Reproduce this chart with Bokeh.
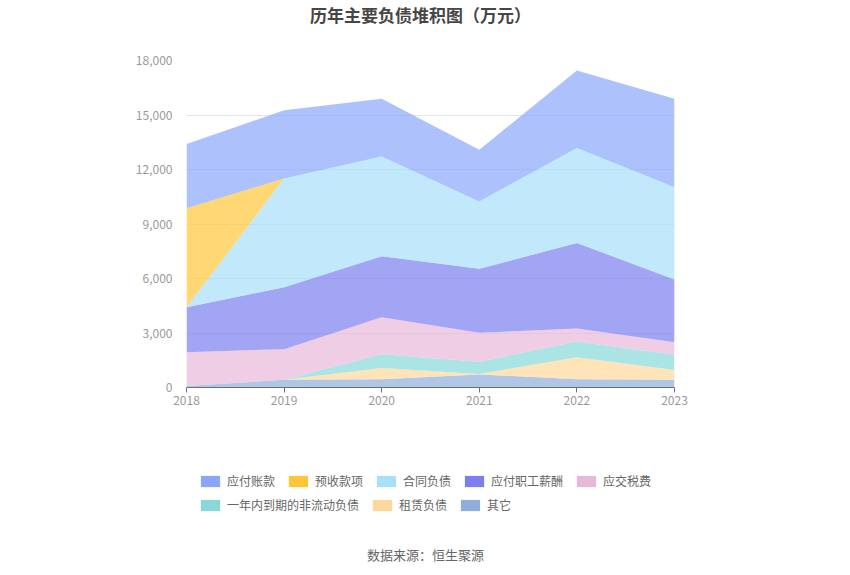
from bokeh.plotting import figure
from bokeh.layouts import column
from bokeh.models import (ColumnDataSource, Legend, LegendItem, Label,
                          NumeralTickFormatter, FixedTicker, Range1d)
from bokeh.transform import stack
from bokeh.embed import file_html
from bokeh.resources import INLINE

# ---- data (万元) ----
years = [2018, 2019, 2020, 2021, 2022, 2023]
other = [80, 420, 450, 720, 460, 420]            # 其它
lease = [0, 0, 630, 30, 1210, 550]               # 租赁负债
current_ncl = [0, 0, 755, 665, 860, 830]         # 一年内到期的非流动负债
tax = [1865, 1690, 2035, 1595, 720, 695]         # 应交税费
salary = [2475, 3410, 3355, 3520, 4710, 3450]    # 应付职工薪酬
contract = [0, 5980, 5485, 3710, 5230, 5080]     # 合同负债
advance = [5450, 0, 0, 0, 0, 0]                  # 预收款项
payable = [3540, 3760, 3180, 2850, 4260, 4865]   # 应付账款

series_keys = ["other", "lease", "current_ncl", "tax", "salary", "contract", "advance", "payable"]
series_names = ["其它", "租赁负债", "一年内到期的非流动负债", "应交税费", "应付职工薪酬",
                "合同负债", "预收款项", "应付账款"]
series_colors = ["#8eaedc", "#fdd89a", "#88d8d8", "#e8b8d8", "#7b7ff0",
                 "#a8e0fa", "#ffc63a", "#8aa6fb"]
legend_row1 = ["应付账款", "预收款项", "合同负债", "应付职工薪酬", "应交税费"]
legend_row2 = ["一年内到期的非流动负债", "租赁负债", "其它"]
y_ticks = [0, 3000, 6000, 9000, 12000, 15000, 18000]

source = ColumnDataSource(dict(year=years, other=other, lease=lease, current_ncl=current_ncl,
                               tax=tax, salary=salary, contract=contract,
                               advance=advance, payable=payable))

FONT = "Noto Sans CJK SC"
W = 848
LEFT = 186
RIGHT = W - 674


def blank_fig(h):
    f = figure(width=W, height=h, output_backend="svg", toolbar_location=None,
               x_range=Range1d(0, 1), y_range=Range1d(0, 1),
               min_border_left=LEFT, min_border_right=RIGHT,
               min_border_top=0, min_border_bottom=0)
    f.axis.visible = False
    f.grid.visible = False
    f.outline_line_color = None
    return f


# ---- title strip ----
top = blank_fig(40)
top.add_layout(Label(x=234, y=26, x_units="screen", y_units="screen",
                     text="历年主要负债堆积图（万元）", text_align="center",
                     text_baseline="middle", text_font=FONT, text_font_size="17px",
                     text_font_style="bold", text_color="#464646"))

# ---- main chart ----
p = figure(width=W, height=390, output_backend="svg", toolbar_location=None,
           x_range=Range1d(2018, 2023), y_range=Range1d(0, 18000),
           min_border_left=LEFT, min_border_right=RIGHT, min_border_top=20,
           min_border_bottom=43)
p.outline_line_color = None

for i, key in enumerate(series_keys):
    p.varea(x="year", y1=stack(*series_keys[:i]) if i > 0 else 0,
            y2=stack(*series_keys[:i + 1]), source=source,
            fill_color=series_colors[i], fill_alpha=0.7)

p.xaxis.ticker = FixedTicker(ticks=years)
p.xaxis.axis_line_color = "#6e7079"
p.xaxis.major_tick_line_color = "#6e7079"
p.xaxis.major_tick_out = 5
p.xaxis.major_tick_in = 0
p.xaxis.minor_tick_line_color = None
p.xaxis.major_label_text_color = "#999999"
p.xaxis.major_label_text_font = FONT
p.xaxis.major_label_text_font_size = "12px"
p.xaxis.major_label_standoff = 3

p.yaxis.ticker = FixedTicker(ticks=y_ticks)
p.yaxis.formatter = NumeralTickFormatter(format="0,0")
p.yaxis.axis_line_color = None
p.yaxis.major_tick_line_color = None
p.yaxis.minor_tick_line_color = None
p.yaxis.major_label_text_color = "#999999"
p.yaxis.major_label_text_font = FONT
p.yaxis.major_label_text_font_size = "12px"
p.yaxis.major_label_standoff = 8

p.xgrid.grid_line_color = None
p.ygrid.grid_line_color = "#e0e6f1"

# ---- legend + source strip ----
bot = blank_fig(142)
legend_renderers = {}
for name, color in zip(series_names, series_colors):
    # zero-height swatch renderer, only used to draw the legend glyph
    legend_renderers[name] = bot.varea(x=[0, 0], y1=[0, 0], y2=[0, 0],
                                       fill_color=color, fill_alpha=1.0)


def make_legend(names, x, y):
    return Legend(items=[LegendItem(label=n, renderers=[legend_renderers[n]]) for n in names],
                  orientation="horizontal", location=(x, y),
                  glyph_width=24, glyph_height=14, label_height=14,
                  label_standoff=5, spacing=11, padding=0, margin=0,
                  border_line_color=None, background_fill_alpha=0,
                  label_text_font=FONT, label_text_font_size="12px",
                  label_text_color="#666666")


bot.add_layout(make_legend(legend_row1, 12, 83))
bot.add_layout(make_legend(legend_row2, 12, 59))
bot.add_layout(Label(x=239, y=18, x_units="screen", y_units="screen",
                     text="数据来源：恒生聚源", text_align="center",
                     text_baseline="middle", text_font=FONT, text_font_size="13px",
                     text_color="#666666"))

layout = column(top, p, bot, spacing=0)
open("out.html", "w").write(file_html(layout, INLINE))
